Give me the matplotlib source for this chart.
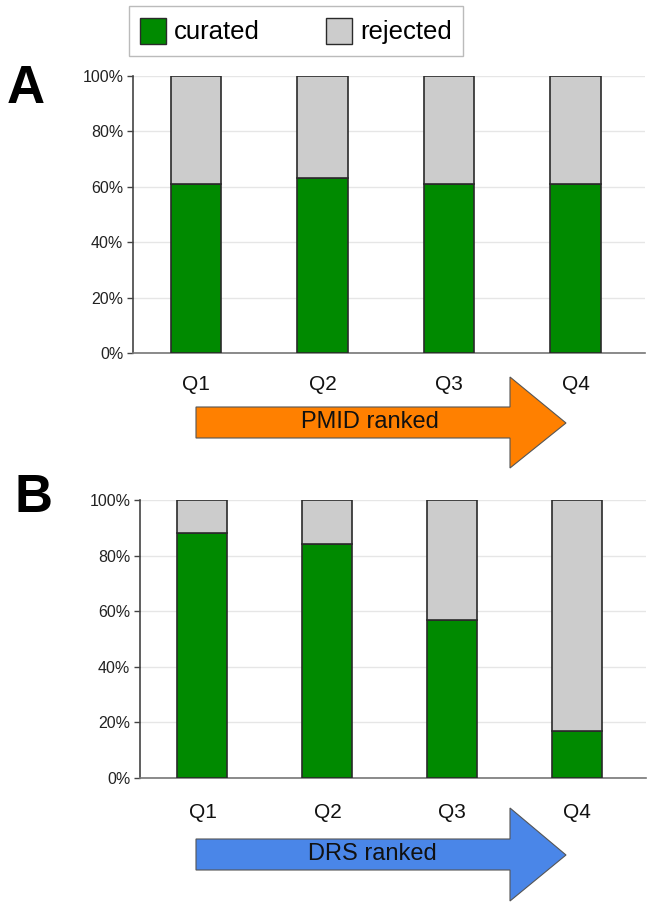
import matplotlib
matplotlib.use("Agg")
import matplotlib.pyplot as plt
from matplotlib.patches import Polygon, Patch
from matplotlib.ticker import FuncFormatter

plt.rcParams['font.family'] = ['Liberation Sans', 'DejaVu Sans']

quartiles = ["Q1", "Q2", "Q3", "Q4"]
pmid_curated = [61, 63, 61, 61]
drs_curated = [88, 84, 57, 17]
pmid_rejected = [100 - v for v in pmid_curated]
drs_rejected = [100 - v for v in drs_curated]
yticks = [0, 20, 40, 60, 80, 100]

GREEN = "#008a00"
GRAY = "#cccccc"
EDGE = "#2a2a2a"

W, H = 652, 909
fig = plt.figure(figsize=(W / 100, H / 100), dpi=100)


def fx(x):
    return x / W


def fy(y):
    return 1 - y / H


def make_axes(left, right, top, bottom, curated, rejected):
    ax = fig.add_axes([fx(left), fy(bottom), fx(right) - fx(left), fy(top) - fy(bottom)])
    x = list(range(len(quartiles)))
    ax.bar(x, curated, width=0.4, color=GREEN, edgecolor=EDGE, linewidth=1.2, zorder=3)
    ax.bar(x, rejected, width=0.4, bottom=curated, color=GRAY, edgecolor=EDGE, linewidth=1.2, zorder=3)
    ax.set_xlim(-0.5, 3.55)
    ax.set_ylim(0, 100)
    ax.set_yticks(yticks)
    ax.yaxis.set_major_formatter(FuncFormatter(lambda v, p: f"{int(v)}%"))
    ax.tick_params(axis='y', labelsize=11.5, length=4, width=1, color="#444444", pad=3, labelcolor="#222222")
    ax.set_xticks([])
    ax.grid(axis='y', color="#e6e6e6", linewidth=1, zorder=0)
    for s in ["top", "right"]:
        ax.spines[s].set_visible(False)
    ax.spines["left"].set_color("#444444")
    ax.spines["left"].set_linewidth(1.2)
    ax.spines["bottom"].set_color("#777777")
    ax.spines["bottom"].set_linewidth(1.2)
    return ax


axA = make_axes(133, 645, 76, 353, pmid_curated, pmid_rejected)
axB = make_axes(140, 646, 500, 778, drs_curated, drs_rejected)

# Quartile labels below each panel, positioned via data x
for ax, ypix in [(axA, 385), (axB, 812)]:
    for i, q in enumerate(quartiles):
        xd = ax.transData.transform((i, 0))[0]
        fig.text(xd / (fig.get_figwidth() * fig.dpi), fy(ypix), q,
                 ha="center", va="center", fontsize=15, color="#111111")


def arrow(body_top, body_bot, head_top, head_bot, tip_y, color, label, text_x):
    pts = [(196, body_top), (510, body_top), (510, head_top), (566, tip_y),
           (510, head_bot), (510, body_bot), (196, body_bot)]
    poly = Polygon([(fx(a), fy(b)) for a, b in pts], closed=True, transform=fig.transFigure,
                   facecolor=color, edgecolor="#555555", linewidth=0.8)
    fig.patches.append(poly)
    fig.text(fx(text_x), fy((body_top + body_bot) / 2), label, ha="center", va="center",
             fontsize=17, color="#111111")


arrow(407, 438, 377, 468, 423, "#ff8000", "PMID ranked", 370)
arrow(839, 870, 808, 901, 855, "#4a86e8", "DRS ranked", 372)

# Panel letters
fig.text(fx(7), fy(89), "A", fontsize=38, fontweight="bold", ha="left", va="center")
fig.text(fx(14), fy(498), "B", fontsize=38, fontweight="bold", ha="left", va="center")

# Legend
handles = [Patch(facecolor=GREEN, edgecolor=EDGE, label="curated"),
           Patch(facecolor=GRAY, edgecolor=EDGE, label="rejected")]
leg = fig.legend(handles=handles, loc="center", bbox_to_anchor=(fx(296), fy(31)), ncol=2,
                 fontsize=18.5, frameon=True, fancybox=False, handlelength=1.0, handleheight=1.2,
                 handletextpad=0.3, columnspacing=2.6, borderpad=0.45, edgecolor="#aaaaaa")
leg.get_frame().set_linewidth(1.0)

fig.savefig("out.png", dpi=100)
